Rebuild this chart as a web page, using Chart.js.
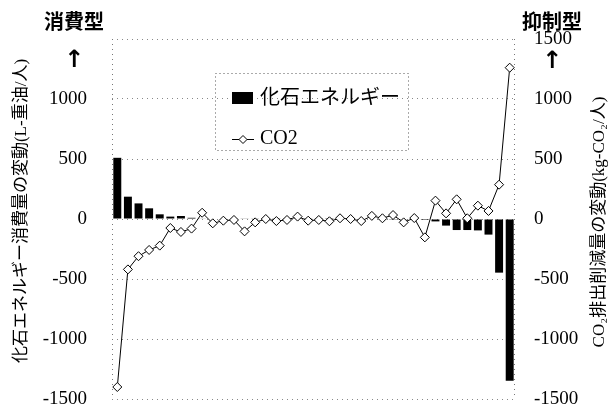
<!DOCTYPE html>
<html>
<head>
<meta charset="utf-8">
<script src="https://cdn.jsdelivr.net/npm/chart.js@4"></script>
<style>
  body { margin: 0; background: #fff; }
  #wrap { width: 616px; height: 412px; }
</style>
</head>
<body>
<div id="wrap"><canvas id="chart" width="616" height="412"></canvas></div>
<script>
// 38 regions, sorted left to right
var categories = [];
for (var i = 1; i <= 38; i++) categories.push(String(i));

// fossil energy consumption change (L-heavy oil / person)
var fossilValues = [510, 186, 130, 89, 39, 20, 25, 10, 5, 4, 4, 3, 3, 3, 2, 2, 2, 2, 2, 1,
                    1, 1, 1, 0, 0, -1, -2, -3, -5, -8, -20, -55, -92, -92, -95, -130, -447, -1347];

// CO2 reduction change (kg-CO2 / person)
var co2Values = [-1400, -420, -310, -258, -222, -75, -108, -80, 52, -36, -14, -8, -103, -28, 0, -17, -8, 20, -14, -8,
                 -19, 6, 0, -17, 26, 6, 33, -28, 8, -153, 153, 47, 164, 6, 111, 67, 286, 1261];

var tickValues = [-1500, -1000, -500, 0, 500, 1000, 1500];

var serif = '"Liberation Serif", "Noto Sans CJK JP"';
var gothic = '"Noto Sans CJK JP", "Noto Sans"';

Chart.defaults.color = '#000';
Chart.defaults.font.family = serif;

// titles, header labels and the boxed legend
var decorPlugin = {
	id: 'decor',
	afterDraw: function(chart) {
		var ctx = chart.ctx;
		var area = chart.chartArea;
		ctx.save();

		// dotted side borders
		ctx.strokeStyle = '#777';
		ctx.lineWidth = 1;
		ctx.setLineDash([1, 4]);
		ctx.beginPath();
		ctx.moveTo(area.left + 0.5, area.top);
		ctx.lineTo(area.left + 0.5, area.bottom);
		ctx.moveTo(area.right - 0.5, area.top);
		ctx.lineTo(area.right - 0.5, area.bottom);
		ctx.stroke();

		// legend box
		ctx.strokeStyle = '#555';
		ctx.setLineDash([1, 3]);
		ctx.strokeRect(215.5, 73.5, 193, 77);
		ctx.setLineDash([]);

		ctx.fillStyle = '#000';
		ctx.fillRect(232, 92, 21, 12);
		ctx.textAlign = 'left';
		ctx.textBaseline = 'middle';
		ctx.font = '20px ' + serif;
		ctx.fillText('化石エネルギー', 260, 99);

		ctx.beginPath();
		ctx.lineWidth = 1;
		ctx.strokeStyle = '#000';
		ctx.moveTo(232, 139.5);
		ctx.lineTo(254, 139.5);
		ctx.stroke();
		ctx.fillStyle = '#fff';
		ctx.beginPath();
		ctx.moveTo(243, 135.5); ctx.lineTo(247, 139.5); ctx.lineTo(243, 143.5); ctx.lineTo(239, 139.5);
		ctx.closePath();
		ctx.fill();
		ctx.stroke();
		ctx.fillStyle = '#000';
		ctx.font = '20px ' + serif;
		ctx.fillText('CO2', 260, 139);

		// header labels
		ctx.textAlign = 'center';
		ctx.font = 'bold 20px ' + gothic;
		ctx.fillText('消費型', 74, 21);
		ctx.fillText('抑制型', 552, 21);
		ctx.font = 'bold 24px "DejaVu Sans"';
		ctx.fillText('↑', 74, 61);
		ctx.fillText('↑', 552, 62);

		// axis titles
		ctx.font = '17px ' + serif;
		ctx.save();
		ctx.translate(22, 211);
		ctx.rotate(-Math.PI / 2);
		ctx.fillText('化石エネルギー消費量の変動(L-重油/人)', 0, 0);
		ctx.restore();
		ctx.save();
		ctx.translate(600, 222);
		ctx.rotate(-Math.PI / 2);
		ctx.fillText('CO₂排出削減量の変動(kg-CO₂/人)', 0, 0);
		ctx.restore();

		ctx.restore();
	}
};

function fixTicks(scale) {
	scale.ticks = tickValues.map(function(v) { return {value: v}; });
}

var ctxEl = document.getElementById('chart');
var chart = new Chart(ctxEl, {
	type: 'bar',
	data: {
		labels: categories,
		datasets: [
			{
				type: 'line',
				label: 'CO2',
				data: co2Values,
				yAxisID: 'y2',
				order: 0,
				borderColor: '#000',
				borderWidth: 1,
				tension: 0,
				pointStyle: 'rectRot',
				pointRadius: 4.5,
				pointBackgroundColor: '#fff',
				pointBorderColor: '#000',
				pointBorderWidth: 1
			},
			{
				label: '化石エネルギー',
				data: fossilValues,
				yAxisID: 'y',
				order: 1,
				backgroundColor: '#000',
				borderWidth: 0,
				categoryPercentage: 1,
				barPercentage: 0.75
			}
		]
	},
	options: {
		responsive: false,
		animation: false,
		layout: { padding: { left: 0, right: 0, top: 39, bottom: 13 } },
		plugins: {
			legend: { display: false },
			tooltip: { enabled: false }
		},
		scales: {
			x: {
				display: false,
				offset: true
			},
			y: {
				position: 'left',
				min: -1500,
				max: 1500,
				afterBuildTicks: fixTicks,
				afterFit: function(scale) {
					scale.width = 112;
					scale.paddingTop = 0;
					scale.paddingBottom = 0;
				},
				ticks: {
					padding: 25,
					font: { size: 19, family: serif },
					callback: function(v) { return v === 1500 ? '' : v; }
				},
				grid: { color: '#888', lineWidth: 1, drawTicks: false },
				border: { display: false, dash: [1, 4] }
			},
			y2: {
				position: 'right',
				min: -1500,
				max: 1500,
				afterBuildTicks: fixTicks,
				afterFit: function(scale) {
					scale.width = 101;
					scale.paddingTop = 0;
					scale.paddingBottom = 0;
				},
				ticks: {
					padding: 19,
					font: { size: 19, family: serif },
					callback: function(v) { return v; }
				},
				grid: { display: false, drawTicks: false },
				border: { display: false }
			}
		}
	},
	plugins: [decorPlugin]
});
</script>
</body>
</html>
